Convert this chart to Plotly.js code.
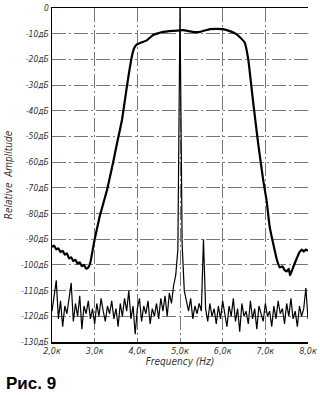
<!DOCTYPE html>
<html>
<head>
<meta charset="utf-8">
<script src="https://cdn.plot.ly/plotly-3.0.1.min.js"></script>
<style>html,body{margin:0;padding:0;background:#fff;}#chart{width:320px;height:395px;}</style>
</head>
<body>
<div id="chart"></div>
<script>
// Filter passband response (thick curve)
const passFreq = [2.0,2.05,2.1,2.15,2.2,2.25,2.3,2.35,2.4,2.45,2.5,2.55,2.6,2.65,2.7,2.75,2.8,2.85,2.9,3.0,3.12,3.29,3.43,3.52,3.64,3.76,3.87,3.93,3.99,4.1,4.22,4.37,4.6,4.84,5.07,5.3,5.47,5.7,6.0,6.17,6.3,6.4,6.52,6.6,6.71,6.83,6.95,7.03,7.1,7.18,7.27,7.34,7.4,7.45,7.5,7.55,7.58,7.65,7.74,7.8,7.86,7.9,7.95,8.0];
const passDb = [-93,-92.5,-94,-93.5,-95,-94.5,-96,-95.5,-97.5,-97,-98.5,-98,-99.5,-99,-100.5,-100,-101.5,-101,-99,-90,-81,-70.8,-60.3,-53,-43.6,-30,-19,-15.5,-14.2,-13.4,-12.6,-10.5,-9.3,-8.9,-8.6,-9.3,-9.3,-8.2,-8.2,-9.0,-10,-11.3,-13.6,-20,-36,-52.5,-67,-75,-85,-91.4,-98,-101,-100.5,-102,-102.5,-101.5,-104,-101,-97.3,-95,-94,-94.8,-94,-94.5];

// Noise floor with 5 kHz tone (thin curve), 2.0k..8.0k every 50 Hz
const noiseDb = [
-118,-112,-106,-121,-114,-124,-116,-119,-113,-107,
-122,-115,-120,-112,-125,-116,-119,-114,-121,-117,
-123,-115,-120,-113,-118,-122,-116,-119,-114,-121,
-117,-124,-115,-120,-113,-118,-110,-121,-116,-127,
-117,-113,-122,-116,-119,-114,-123,-117,-120,-115,
-121,-113,-118,-112,-120,-111,-115,-108,-104,-94,
0,-92,-110,-114,-118,-113,-121,-116,-119,-115,
-118,-90,-117,-122,-115,-120,-117,-123,-116,-121,
-114,-119,-124,-116,-120,-113,-122,-117,-126,-115,
-120,-118,-123,-114,-121,-117,-125,-116,-119,-122,
-115,-120,-118,-124,-116,-121,-114,-119,-117,-123,
-115,-120,-113,-121,-118,-124,-116,-120,-117,-109,
-121];
const noiseFreq = noiseDb.map((_, i) => +(2 + i * 0.05).toFixed(2));

const xTickVals = [2,3,4,5,6,7,8];
const xTickText = ['2,0к','3,0к','4,0к','5,0к','6,0к','7,0к','8,0к'];
const yTickVals = [0,-10,-20,-30,-40,-50,-60,-70,-80,-90,-100,-110,-120,-130];
const yTickText = ['0','-10дБ','-20дБ','-30дБ','-40дБ','-50дБ','-60дБ','-70дБ','-80дБ','-90дБ','-100дБ','-110дБ','-120дБ','-130дБ'];

const fam = 'DejaVu Sans Condensed, Liberation Sans Narrow, DejaVu Sans, sans-serif';

const traces = [
  {x: noiseFreq, y: noiseDb, type: 'scatter', mode: 'lines',
   line: {color: '#000', width: 1.2}, hoverinfo: 'skip', showlegend: false},
  {x: passFreq, y: passDb, type: 'scatter', mode: 'lines',
   line: {color: '#000', width: 2.2, shape: 'spline', smoothing: 0.3}, showlegend: false}
];

const layout = {
  width: 320, height: 395,
  margin: {l: 52, r: 12, t: 8, b: 53},
  paper_bgcolor: '#fff', plot_bgcolor: '#fff',
  showlegend: false,
  xaxis: {
    range: [2, 8], tickvals: xTickVals, ticktext: xTickText,
    showline: true, mirror: true, linecolor: '#000', linewidth: 1.5,
    showgrid: true, gridcolor: '#777', gridwidth: 1, griddash: '14px,3px,2px,3px',
    zeroline: false, ticks: '',
    tickfont: {family: fam, size: 9, color: '#333', style: 'italic'},
    title: {text: 'Frequency (Hz)', standoff: 2, font: {family: fam, size: 10, color: '#333', style: 'italic'}}
  },
  yaxis: {
    range: [-130, 0], tickvals: yTickVals, ticktext: yTickText,
    showline: true, linecolor: '#000', linewidth: 1.5,
    showgrid: true, gridcolor: '#777', gridwidth: 1, griddash: '14px,3px,2px,3px',
    zeroline: false, ticks: '',
    tickfont: {family: fam, size: 8.5, color: '#333', style: 'italic'},
    title: {text: 'Relative  Amplitude', standoff: 6, font: {family: fam, size: 10, color: '#333', style: 'italic'}}
  },
  annotations: [
    {text: '<b>Рис. 9</b>', xref: 'paper', yref: 'paper', x: (4 - 52) / 256, y: (342 - 383) / 334,
     xanchor: 'left', yanchor: 'middle', showarrow: false,
     font: {family: 'Liberation Sans, Arial, sans-serif', size: 17, color: '#000'}}
  ]
};

Plotly.newPlot('chart', traces, layout, {displayModeBar: false, staticPlot: true});
</script>
</body>
</html>
